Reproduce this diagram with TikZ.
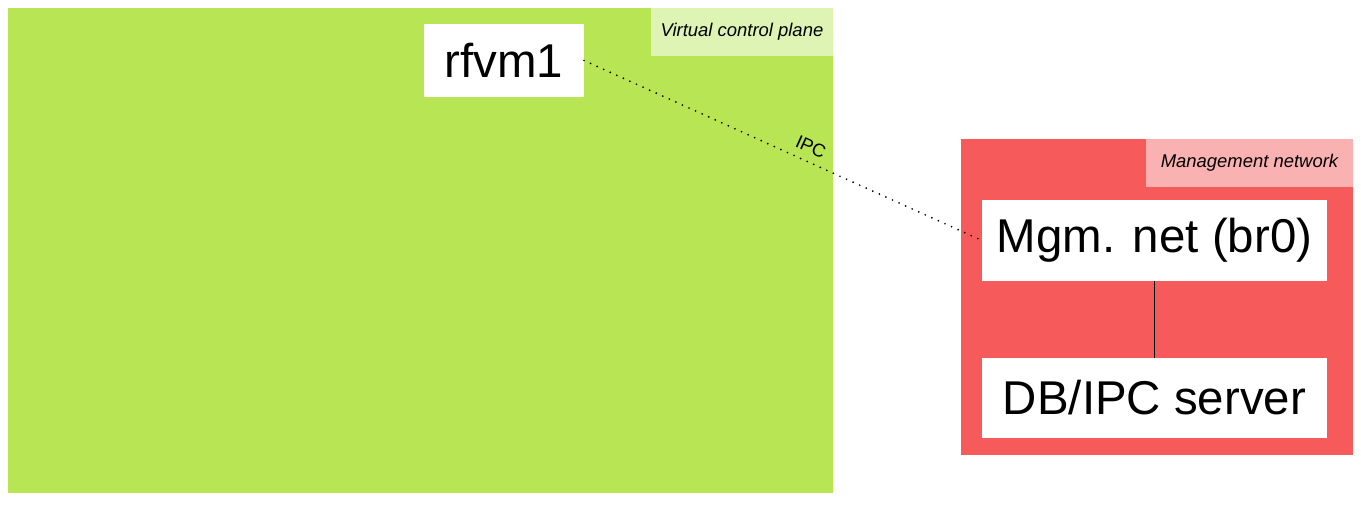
\documentclass[tikz,border=0pt]{standalone}
\usepackage{fontspec}
\setmainfont{Liberation Sans}
\usetikzlibrary{positioning}
\definecolor{vcpgreen}{RGB}{183,229,83}
\definecolor{vcplight}{RGB}{221,244,180}
\definecolor{mgmred}{RGB}{247,90,90}
\definecolor{mgmlight}{RGB}{250,177,177}

\begin{document}
\begin{tikzpicture}[x=0.02cm, y=-0.02cm]
    % Define styles
    \tikzstyle{group} = [rectangle, inner sep=0pt, outer sep=0pt]
    \tikzstyle{grouplabel} = [rectangle, inner sep=0pt, outer sep=0pt, minimum height=0.96cm, font=\fontsize{10.5}{12}\selectfont\itshape]
    \tikzstyle{box} = [rectangle, fill=white, inner sep=0pt, outer sep=0pt, font=\fontsize{27}{32}\selectfont]
    \tikzstyle{ipc} = [line width=1.1pt, dash pattern=on 0pt off 4.1pt, line cap=round]

    \useasboundingbox (0,0) rectangle (1361,513);

    % Groups
    \node[group, fill=vcpgreen, minimum width=16.5cm, minimum height=9.7cm] (vcp) at (420.5,250.5) {};
    \node[grouplabel, fill=vcplight, minimum width=3.64cm, anchor=north east] (vcplabel) at (vcp.north east) {Virtual control plane};
    \node[group, fill=mgmred, minimum width=7.84cm, minimum height=6.32cm] (mgm) at (1157,297) {};
    \node[grouplabel, fill=mgmlight, minimum width=4.14cm, anchor=north east] (mgmlabel) at (mgm.north east) {Management network};

    % Nodes
    \node[box, minimum width=3.2cm, minimum height=1.46cm] (rfvm) at (504,60.5) {rfvm1};
    \node[box, minimum width=6.9cm, minimum height=1.62cm] (br) at (1154.5,240.5) {Mgm. net (br0)};
    \node[box, minimum width=6.9cm, minimum height=1.6cm, below=1.54cm of br] (db) {DB/IPC server};

    % Connectors
    \draw[ipc] (rfvm.east) -- node[pos=0.555, above, sloped, inner sep=4pt, font=\fontsize{10.5}{12}\selectfont] {IPC} (br.west);
    \draw[line width=0.6pt] (br) -- (db);
\end{tikzpicture}
\end{document}
